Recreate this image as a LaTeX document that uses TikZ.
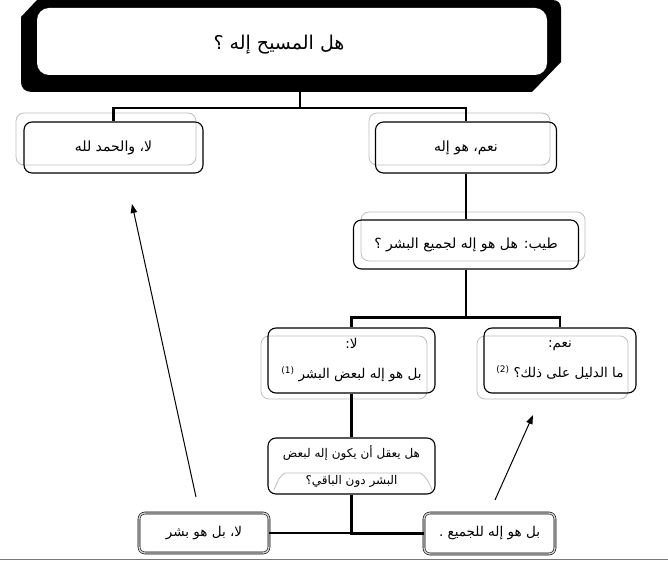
\documentclass[tikz,border=0pt]{standalone}
\usepackage{fontspec}
\newfontfamily\arabicfont[Script=Arabic]{DejaVu Sans}
\TeXXeTstate=1
\usetikzlibrary{arrows.meta}
\definecolor{accent}{HTML}{4F81BD}
\definecolor{ghostgray}{RGB}{190,190,190}
\newcommand{\ar}[1]{\beginR #1\endR}
\newcommand{\fn}[1]{\beginL\raisebox{5pt}{\fontsize{9}{9}\selectfont(#1)}\endL}
\begin{document}
\begin{tikzpicture}[x=1pt,y=-1pt,
  box/.style={draw=black, line width=1.1pt, rounded corners=8pt, inner sep=0pt,
    font=\arabicfont\fontsize{14}{17}\selectfont, align=center},
  dbox/.style={draw=black, line width=0.6pt, double=gray!35, double distance=1.4pt,
    rounded corners=6pt, inner sep=0pt, font=\arabicfont\fontsize{13.5}{16}\selectfont, align=center},
  ghost/.style={draw=ghostgray, line width=0.8pt, rounded corners=8pt},
  tree/.style={draw=black, line width=2.8pt},
  arr/.style={draw=black, line width=1pt, -{Triangle[length=9pt,width=6.5pt]}}
]
\useasboundingbox (0,0) rectangle (668,561);
% top frame
\fill[black] (37,0) -- (552,0) .. controls (558,0) and (561,3) .. (561,9) -- (561,62) -- (532,92)
  -- (32,92) .. controls (25,92) and (21,88) .. (21,82) -- (21,17) -- cycle;
\fill[white, rounded corners=12pt] (37,8) rectangle (547,75);
\node[inner sep=0pt, minimum width=510pt, minimum height=67pt,
  font=\arabicfont\fontsize{19}{22}\selectfont] (top) at (279,45) {\ar{هل المسيح إله ؟}};
\coordinate (topdrop) at (300,92);

% ghost offsets
\draw[ghost] (16,113) rectangle (196,165);
\draw[ghost] (369,113) rectangle (550,165);
\draw[ghost] (361,212) rectangle (585,261);
\draw[ghost] (261,336) rectangle (427,399);
\draw[ghost] (477,336) rectangle (628,399);

% boxes
\node[box, minimum width=179pt, minimum height=51pt] (no) at (113.5,147.5) {\ar{لا، والحمد لله}};
\node[box, minimum width=181pt, minimum height=51pt] (yes) at (466,147.5) {\ar{نعم، هو إله}};
\node[box, minimum width=225pt, minimum height=49pt] (q2) at (466,244.5) {\ar{طيب: هل هو إله لجميع البشر ؟}};
\node[box, minimum width=167pt, minimum height=65pt, font=\arabicfont\fontsize{13.5}{16}\selectfont] (la) at (351.5,360.5)
  {\ar{لا:}\\[14pt]\ar{بل هو إله لبعض البشر \fn{1}}};
\node[box, minimum width=152pt, minimum height=65pt, font=\arabicfont\fontsize{13.5}{16}\selectfont] (na) at (560,360.5)
  {\ar{نعم:}\\[14pt]\ar{ما الدليل على ذلك؟ \fn{2}}};
\node[box, minimum width=167pt, minimum height=56pt, font=\arabicfont\fontsize{12}{14}\selectfont] (q3) at (351.5,466)
  {\ar{هل يعقل أن يكون إله لبعض}\\[13pt]\ar{البشر دون الباقي؟}};
\draw[ghostgray, line width=0.8pt] (274,490) .. controls (277,482) and (280,475) .. (285,473)
  -- (420,473) .. controls (425,475) and (429,482) .. (432,490);
\node[dbox, minimum width=130pt, minimum height=40pt] (b1) at (204,533) {\ar{لا، بل هو بشر}};
\node[dbox, minimum width=131pt, minimum height=41pt] (b2) at (489.5,533.5) {\ar{بل هو إله للجميع .}};

% tree connectors
\draw[tree] (topdrop) -- ++(0,16) -| (no.north);
\draw[tree] (topdrop) -- ++(0,16) -| (yes.north);
\draw[tree] (yes.south) -- (q2.north);
\draw[tree] (q2.south) -- ++(0,48) -| (la.north);
\draw[tree] (q2.south) -- ++(0,48) -| (na.north);
\draw[tree] (la.south) -- (q3.north);
\draw[tree] (q3.south) |- (b1.east);
\draw[tree] (q3.south) |- (b2.west);

% free arrows
\coordinate (a1s) at (196,497);
\coordinate (a1e) at (132,204);
\coordinate (a2s) at (495,500);
\coordinate (a2e) at (533,415);
\draw[arr] (a1s) -- (a1e);
\draw[arr] (a2s) -- (a2e);

% bottom rule
\draw[accent, line width=1.6pt] (0,559.5) -- (668,559.5);
\end{tikzpicture}
\end{document}
